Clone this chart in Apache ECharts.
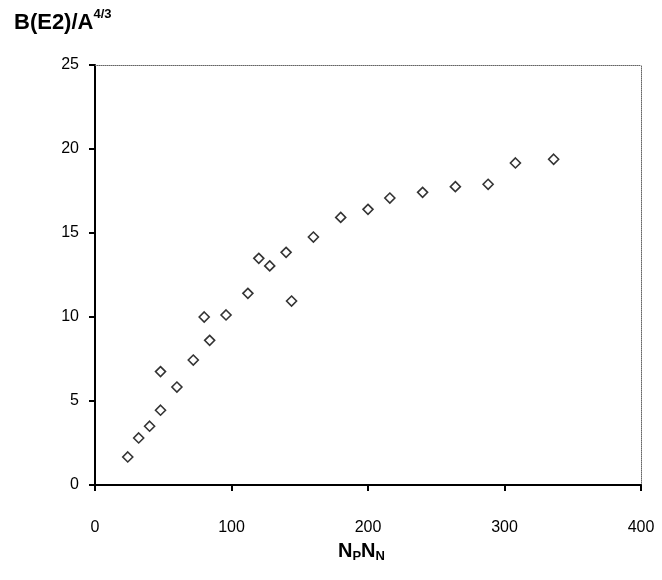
<!DOCTYPE html>
<html>
<head>
<meta charset="utf-8">
<script src="https://cdn.jsdelivr.net/npm/echarts@6/dist/echarts.min.js"></script>
<style>html,body{margin:0;padding:0;background:#fff;}#c{width:662px;height:580px;}</style>
</head>
<body>
<div id="c"></div>
<script>
const npnn = [24, 32, 40, 48, 48, 60, 72, 80, 84, 96, 112, 120, 128, 140, 144, 160, 180, 200, 216, 240, 264, 288, 308, 336];
const be2 = [1.67, 2.8, 3.5, 4.45, 6.75, 5.83, 7.44, 10.0, 8.61, 10.12, 11.41, 13.49, 13.04, 13.85, 10.95, 14.76, 15.93, 16.41, 17.08, 17.42, 17.76, 17.9, 19.17, 19.39];
const xTicks = [0, 100, 200, 300, 400];
const yTicks = [0, 5, 10, 15, 20, 25];

const chart = echarts.init(document.getElementById('c'));
const font = 'Liberation Sans, Arial, sans-serif';
chart.setOption({
  animation: false,
  backgroundColor: '#fff',
  grid: { left: 95, right: 21, top: 65, bottom: 95 },
  xAxis: [{
    type: 'value', min: xTicks[0], max: xTicks[xTicks.length-1], interval: 100,
    axisLine: { show: true, onZero: false, lineStyle: { color: '#000', width: 2 } },
    axisTick: { show: true, length: 6, lineStyle: { color: '#000', width: 2 } },
    axisLabel: { color: '#000', fontFamily: font, fontSize: 16, margin: 35 },
    splitLine: { show: false }
  }, {
    type: 'value', position: 'top', min: 0, max: 400,
    axisLine: { show: true, onZero: false, lineStyle: { color: '#666', width: 1, type: 'dotted' } },
    axisTick: { show: false }, axisLabel: { show: false }, splitLine: { show: false }
  }],
  yAxis: [{
    type: 'value', min: yTicks[0], max: yTicks[yTicks.length-1], interval: 5,
    axisLine: { show: true, onZero: false, lineStyle: { color: '#000', width: 2 } },
    axisTick: { show: true, length: 6, lineStyle: { color: '#000', width: 2 } },
    axisLabel: { color: '#000', fontFamily: font, fontSize: 16, margin: 16 },
    splitLine: { show: false }
  }, {
    type: 'value', position: 'right', min: 0, max: 25,
    axisLine: { show: true, onZero: false, lineStyle: { color: '#666', width: 1, type: 'dotted' } },
    axisTick: { show: false }, axisLabel: { show: false }, splitLine: { show: false }
  }],
  graphic: [{
    type: 'text', left: 14, top: 8,
    style: {
      text: '{b|B(E2)/A}{s|4/3}',
      rich: {
        b: { fontFamily: font, fontWeight: 'bold', fontSize: 22, fill: '#000', verticalAlign: 'bottom' },
        s: { fontFamily: font, fontWeight: 'bold', fontSize: 13, fill: '#000', verticalAlign: 'top', padding: [0, 0, 13, 0] }
      }
    }
  }, {
    type: 'text', left: 338, top: 541,
    style: {
      text: '{b|N}{s|P}{b|N}{s|N}',
      rich: {
        b: { fontFamily: font, fontWeight: 'bold', fontSize: 20, fill: '#000' },
        s: { fontFamily: font, fontWeight: 'bold', fontSize: 13, fill: '#000', padding: [11, 0, 0, 0] }
      }
    }
  }],
  series: [{
    type: 'scatter',
    data: npnn.map((x, i) => [x, be2[i]]),
    symbol: 'diamond', symbolSize: 10,
    itemStyle: { color: '#fff', borderColor: '#000', borderWidth: 1.6 }
  }]
});
</script>
</body>
</html>
